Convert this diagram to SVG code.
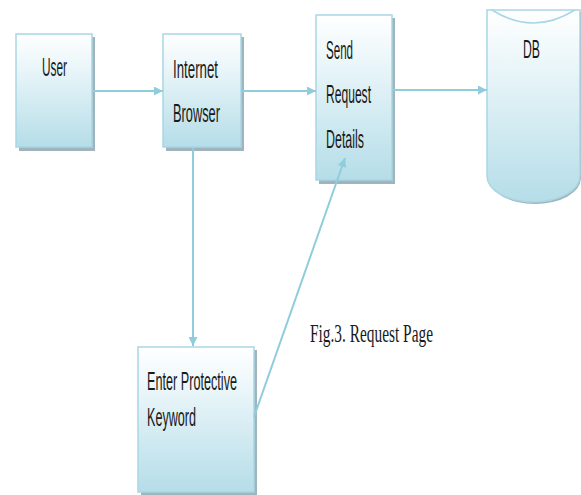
<svg xmlns="http://www.w3.org/2000/svg" width="581" height="495" viewBox="0 0 581 495">
<style>
.box{fill:url(#g);stroke:#a9d6e3;stroke-width:1.5}
.sh{fill:#9fb4bd}
.t{font-family:"Liberation Sans Narrow","Liberation Sans",Arial,sans-serif;font-size:25px;fill:#1a1a1a}
.c{fill:none;stroke:#8fcddd;stroke-width:2}
</style>
<defs>
<linearGradient id="g" x1="0" y1="0" x2="0" y2="1">
<stop offset="0" stop-color="#ffffff"/>
<stop offset="0.35" stop-color="#e6f4f8"/>
<stop offset="1" stop-color="#b5dde8"/>
</linearGradient>
<marker id="a" viewBox="0 0 10 10" refX="10" refY="5" markerWidth="9" markerHeight="9" markerUnits="userSpaceOnUse" orient="auto">
<path d="M0,0 L10,5 L0,10 Z" fill="#8fcddd"/>
</marker>
</defs>
<rect width="581" height="495" fill="#ffffff"/>
<g id="user">
<rect class="sh" x="19" y="37" width="76" height="114"/>
<rect class="box" x="16" y="34" width="76" height="113"/>
<text class="t" x="42" y="76" textLength="25" lengthAdjust="spacingAndGlyphs">User</text>
</g>
<g id="browser">
<rect class="sh" x="166" y="37" width="78" height="114"/>
<rect class="box" x="163" y="34" width="78" height="113"/>
<text class="t" x="173" y="78" textLength="45" lengthAdjust="spacingAndGlyphs">Internet</text>
<text class="t" x="173" y="122" textLength="47" lengthAdjust="spacingAndGlyphs">Browser</text>
</g>
<g id="send">
<rect class="sh" x="319" y="18" width="76" height="166"/>
<rect class="box" x="316" y="15" width="76" height="165"/>
<text class="t" x="326" y="59" textLength="27" lengthAdjust="spacingAndGlyphs">Send</text>
<text class="t" x="326" y="103" textLength="45" lengthAdjust="spacingAndGlyphs">Request</text>
<text class="t" x="326" y="148" textLength="38" lengthAdjust="spacingAndGlyphs">Details</text>
</g>
<g id="db">
<path d="M489,10 L489,176 A46,26 0 0 0 581,176 L581,10" fill="#9fb4bd" transform="translate(0,2)"/>
<path d="M487,10 L487,176 A46.5,26 0 0 0 580,176 L580,10 Z" fill="url(#g)" stroke="#a9d6e3" stroke-width="1.5"/>
<path d="M492,10 Q533,36 575,10" fill="none" stroke="#a9d6e3" stroke-width="1.5"/>
<text class="t" x="523" y="58" textLength="17" lengthAdjust="spacingAndGlyphs">DB</text>
</g>
<g id="enter">
<rect class="sh" x="141" y="350" width="116" height="145"/>
<rect class="box" x="138" y="347" width="116" height="145"/>
<text class="t" x="147" y="390" textLength="90" lengthAdjust="spacingAndGlyphs">Enter Protective</text>
<text class="t" x="147" y="426" textLength="49" lengthAdjust="spacingAndGlyphs">Keyword</text>
</g>
<g id="caption">
<text x="310" y="342" font-family="Liberation Serif,'Times New Roman',serif" font-size="26" fill="#1a1a1a" textLength="123" lengthAdjust="spacingAndGlyphs">Fig.3. Request Page</text>
</g>
<g id="connectors">
<line class="c" x1="93" y1="91" x2="163" y2="91" marker-end="url(#a)"/>
<line class="c" x1="241" y1="91" x2="316" y2="91" marker-end="url(#a)"/>
<line class="c" x1="392" y1="90" x2="487" y2="90" marker-end="url(#a)"/>
<line class="c" x1="193" y1="148" x2="193" y2="346" marker-end="url(#a)"/>
<line class="c" x1="254" y1="417" x2="345" y2="158" marker-end="url(#a)" stroke-width="1.5"/>
</g>
</svg>
